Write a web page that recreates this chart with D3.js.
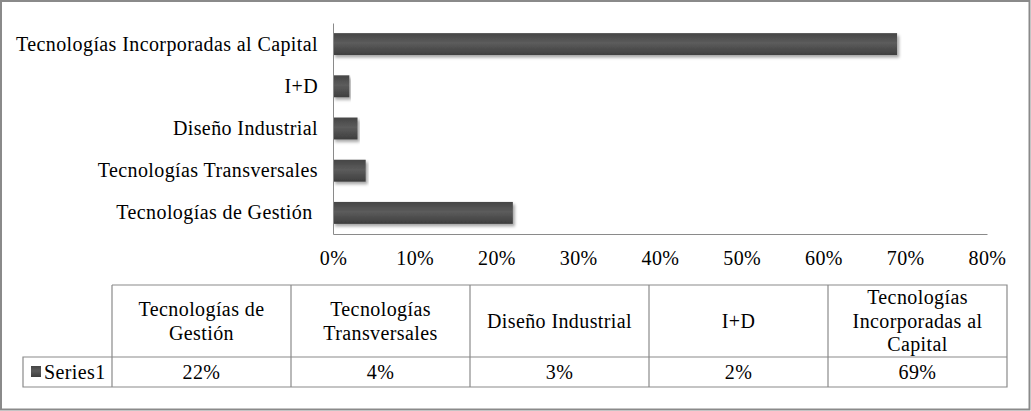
<!DOCTYPE html>
<html>
<head>
<meta charset="utf-8">
<script src="https://cdn.jsdelivr.net/npm/d3@7"></script>
<style>
  html, body { margin: 0; padding: 0; background: #fff; }
  svg { display: block; }
  svg text { font-family: "Liberation Serif", "Times New Roman", serif; letter-spacing: 0.4px; }
</style>
</head>
<body>
<svg id="chart" width="1031" height="411"></svg>
<script>
// categories, bottom to top as in the table
const categories = ['Tecnologías de Gestión', 'Tecnologías Transversales', 'Diseño Industrial', 'I+D', 'Tecnologías Incorporadas al Capital'];
const series1 = [0.22, 0.04, 0.03, 0.02, 0.69];
const seriesName = 'Series1';
const xTicks = [0, 0.1, 0.2, 0.3, 0.4, 0.5, 0.6, 0.7, 0.8];
// table header text split into lines
const headerLines = [['Tecnologías de', 'Gestión'], ['Tecnologías', 'Transversales'], ['Diseño Industrial'], ['I+D'], ['Tecnologías', 'Incorporadas al', 'Capital']];

const svg = d3.select('#chart');
const W = 1031, H = 411;

// frame
svg.append('rect')
  .attr('x', 1).attr('y', 1).attr('width', W - 2.5).attr('height', H - 2.5)
  .attr('fill', '#fff').attr('stroke', '#8a8a8a').attr('stroke-width', 2);

const defs = svg.append('defs');
const grad = defs.append('linearGradient').attr('id', 'barGrad')
  .attr('x1', 0).attr('y1', 0).attr('x2', 0).attr('y2', 1);
grad.append('stop').attr('offset', '0%').attr('stop-color', '#454545');
grad.append('stop').attr('offset', '45%').attr('stop-color', '#5c5c5c');
grad.append('stop').attr('offset', '100%').attr('stop-color', '#3e3e3e');

const shadow = defs.append('filter').attr('id', 'shadow')
  .attr('x', '-5%').attr('y', '-30%').attr('width', '115%').attr('height', '180%');
shadow.append('feDropShadow').attr('dx', 2).attr('dy', 2.5).attr('stdDeviation', 1.6)
  .attr('flood-color', '#000').attr('flood-opacity', 0.35);

const plot = { left: 333, right: 987, top: 23, bottom: 234 };

const x = d3.scaleLinear().domain([0, 0.8]).range([plot.left, plot.right]);
const y = d3.scaleBand().domain(categories.slice().reverse())
  .range([plot.top, plot.bottom]).paddingInner(0.48).paddingOuter(0.24);

// bars
svg.append('g').selectAll('rect')
  .data(categories)
  .join('rect')
  .attr('x', x(0))
  .attr('y', d => y(d))
  .attr('width', (d, i) => x(series1[i]) - x(0))
  .attr('height', y.bandwidth())
  .attr('fill', 'url(#barGrad)')
  .attr('filter', 'url(#shadow)');

// axes
const xAxis = svg.append('g')
  .attr('transform', `translate(0,${plot.bottom})`)
  .call(d3.axisBottom(x).tickValues(xTicks).tickFormat(d3.format('.0%')).tickSize(0).tickPadding(17))
  .attr('font-family', null).attr('font-size', 20);
xAxis.select('.domain').attr('stroke', '#8a8a8a');
xAxis.selectAll('text').attr('fill', '#000');

const yAxis = svg.append('g')
  .attr('transform', `translate(${plot.left},0)`)
  .call(d3.axisLeft(y).tickSize(0).tickPadding(15))
  .attr('font-family', null).attr('font-size', 20);
yAxis.select('.domain').attr('stroke', '#8a8a8a');
yAxis.selectAll('text').attr('fill', '#000')
  .style('white-space', 'pre')
  .text(d => d === 'Tecnologías de Gestión' ? d + ' ' : d);

// data table
const colX = d3.scaleBand().domain(categories).range([112, 1007]);
const rowTop = 285, rowMid = 357, rowBot = 387, labelLeft = 23;
const grid = svg.append('g').attr('stroke', '#8a8a8a').attr('stroke-width', 1.2).attr('fill', 'none');
grid.append('path').attr('d', `M112,${rowTop}H1007V${rowBot}H${labelLeft}V${rowMid}H1007M112,${rowTop}V${rowBot}`);
grid.selectAll('line.col').data(categories.slice(1)).join('line')
  .attr('x1', d => colX(d)).attr('x2', d => colX(d))
  .attr('y1', rowTop).attr('y2', rowBot);

const head = svg.append('g').attr('font-size', 20).attr('text-anchor', 'middle').attr('fill', '#000');
head.selectAll('text').data(categories).join('text')
  .attr('x', d => colX(d) + colX.bandwidth() / 2)
  .each(function (d, i) {
    const lines = headerLines[i];
    const lh = 23.5;
    const cy = (rowTop + rowMid) / 2;
    d3.select(this).selectAll('tspan').data(lines).join('tspan')
      .attr('x', colX(d) + colX.bandwidth() / 2)
      .attr('y', (l, j) => cy + (j - (lines.length - 1) / 2) * lh)
      .attr('dy', '0.34em')
      .text(l => l);
  });

svg.append('g').attr('font-size', 20).attr('text-anchor', 'middle')
  .selectAll('text').data(categories).join('text')
  .attr('x', d => colX(d) + colX.bandwidth() / 2)
  .attr('y', (rowMid + rowBot) / 2)
  .attr('dy', '0.34em')
  .text((d, i) => d3.format('.0%')(series1[i]));

// legend key in row label
svg.append('rect').attr('x', 31).attr('y', 366).attr('width', 10).attr('height', 11)
  .attr('fill', 'url(#barGrad)');
svg.append('text').attr('x', 44).attr('y', (rowMid + rowBot) / 2).attr('dy', '0.34em')
  .attr('font-size', 20).text(seriesName);
</script>
</body>
</html>
